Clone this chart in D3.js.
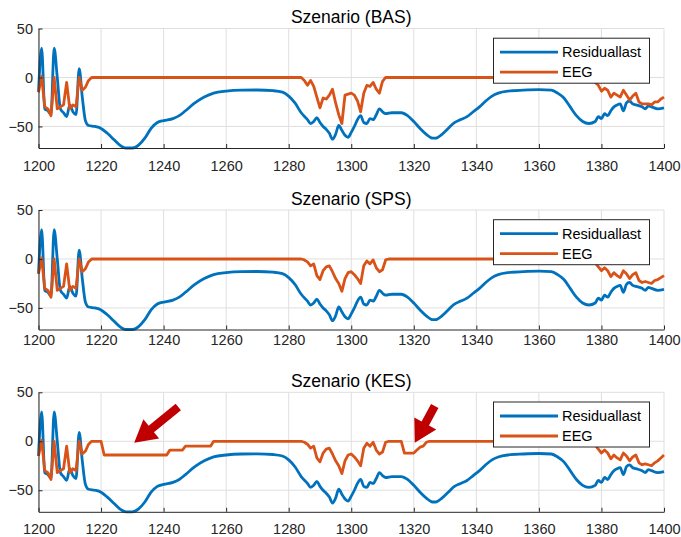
<!DOCTYPE html>
<html>
<head>
<meta charset="utf-8">
<script src="https://cdn.jsdelivr.net/npm/d3@7"></script>
<style>
	body { margin: 0; background: #ffffff; }
	svg { display: block; font-family: "Liberation Sans", Arial, Helvetica, sans-serif; }
</style>
</head>
<body>
<script>

// scenario names, one panel each
var scenarios = ["BAS", "SPS", "KES"];
var seriesNames = ["Residuallast", "EEG"];

var xTicks = [1200, 1220, 1240, 1260, 1280, 1300, 1320, 1340, 1360, 1380, 1400];
var yTicks = [-50, 0, 50];

// Residuallast (same curve in all three scenarios)
var residualT = [1200, 1201, 1202, 1203, 1204, 1205, 1206, 1207, 1208, 1209, 1210, 1211, 1212, 1213, 1214, 1215,
	1216, 1218, 1220, 1222, 1224, 1226, 1228, 1230, 1232, 1234, 1236, 1238, 1240, 1243, 1245, 1247, 1250,
	1253, 1256, 1260, 1265, 1270, 1275, 1278, 1280, 1282, 1284, 1286, 1287, 1288, 1289, 1290, 1291, 1292,
	1293, 1294, 1295, 1296, 1297, 1298, 1299, 1300, 1301, 1302, 1303, 1304, 1305, 1306, 1307, 1308, 1309,
	1310, 1311, 1313, 1316, 1318, 1320, 1322, 1324, 1326, 1327, 1329, 1331, 1333, 1335, 1337, 1339, 1341,
	1343, 1345, 1347, 1350, 1355, 1360, 1364, 1366, 1368, 1370, 1372, 1374, 1376, 1378, 1379, 1380, 1381,
	1382, 1383, 1384, 1385, 1386, 1387, 1388, 1389, 1390, 1391, 1393, 1394, 1395, 1396, 1398, 1400];
var residualV = [-15, 30, -32, -34, -38, 30, 0, -32, -36, -40, -28, -35, -38, 9, -20, -44,
	-49, -50, -52, -57, -63, -69, -72, -72, -69, -62, -52, -46, -44, -42, -39, -34, -26,
	-20, -16, -14, -13, -12.8, -13.5, -15, -19, -26, -36, -43, -47, -45, -41, -46, -50, -53,
	-57, -63, -58, -49, -54, -59, -61, -56, -50, -43, -39, -46, -47, -42, -43, -38, -32,
	-35, -37, -36, -36, -39, -45, -52, -58, -62, -62, -58, -52, -46, -43, -40, -35, -30,
	-24, -19, -16, -14, -13, -12.5, -13, -16, -21, -30, -39, -45, -47, -45, -40, -42, -37,
	-39, -34, -30, -28, -27, -34, -26, -24, -27, -28, -30, -32, -29, -30, -32, -31];

// EEG, scenario BAS
var eegBasT = [1200, 1201, 1202, 1203, 1204, 1205, 1206, 1207, 1208, 1209, 1210, 1211, 1212, 1213, 1214, 1215,
	1216, 1217, 1284, 1285, 1286, 1287, 1288, 1289, 1290, 1291, 1292, 1293, 1294, 1295, 1296, 1297, 1298,
	1299, 1300, 1301, 1302, 1303, 1304, 1305, 1306, 1307, 1308, 1309, 1310, 1311, 1377, 1378, 1379, 1380,
	1381, 1382, 1383, 1384, 1385, 1386, 1387, 1388, 1389, 1390, 1391, 1392, 1393, 1394, 1395, 1396, 1397,
	1398, 1399, 1400];
var eegBasV = [-15, 1, -30, -32, -39, 0, -32, -30, -28, -5, -32, -28, -30, 0, -13, -10,
	-3, 0, 0, -3, -8, -3, -9, -20, -31, -21, -22, -18, -12, -26, -38, -47, -18,
	-17, -16, -18, -24, -35, -16, -8, -9, -5, -12, -16, -4, 0, 0, -5, -8, -14,
	-11, -13, -20, -16, -18, -20, -13, -18, -23, -19, -16, -25, -27, -27, -27, -28, -25,
	-25, -22, -20];

// EEG, scenario SPS
var eegSpsT = [1200, 1201, 1202, 1203, 1204, 1205, 1206, 1207, 1208, 1209, 1210, 1211, 1212, 1213, 1214, 1215,
	1216, 1217, 1284, 1285, 1286, 1287, 1288, 1289, 1290, 1291, 1292, 1293, 1294, 1295, 1296, 1297, 1298,
	1299, 1300, 1301, 1302, 1303, 1304, 1305, 1306, 1307, 1308, 1309, 1310, 1311, 1312, 1377, 1378, 1379,
	1380, 1381, 1382, 1383, 1384, 1385, 1386, 1387, 1388, 1389, 1390, 1391, 1392, 1393, 1394, 1395, 1396,
	1397, 1398, 1399, 1400];
var eegSpsV = [-15, 1, -30, -32, -39, 0, -32, -30, -28, -5, -32, -28, -30, 0, -13, -10,
	-3, 0, 0, -1, -3, -7, -5, -17, -21, -12, -8, -7, -13, -20, -25, -33, -20,
	-14, -13, -16, -20, -25, -7, -2, -5, -1, -9, -13, -11, -1, 0, 0, -4, -8,
	-12, -9, -12, -18, -14, -17, -19, -12, -15, -20, -16, -14, -22, -24, -23, -24, -25,
	-22, -21, -19, -17];

// EEG, scenario KES
var eegKesT = [1200, 1201, 1202, 1203, 1204, 1205, 1206, 1207, 1208, 1209, 1210, 1211, 1212, 1213, 1214, 1215,
	1216, 1217, 1220, 1221, 1241, 1242, 1246, 1247, 1255, 1256, 1284, 1285, 1286, 1287, 1288, 1289, 1290,
	1291, 1292, 1293, 1294, 1295, 1296, 1297, 1298, 1299, 1300, 1301, 1302, 1303, 1304, 1305, 1306, 1307,
	1308, 1309, 1310, 1311, 1312, 1316, 1317, 1320, 1321, 1322, 1323, 1324, 1325, 1377, 1378, 1379, 1380,
	1381, 1382, 1383, 1384, 1385, 1386, 1387, 1388, 1389, 1390, 1391, 1392, 1393, 1394, 1395, 1396, 1397,
	1398, 1399, 1400];
var eegKesV = [-15, 1, -30, -32, -39, 0, -32, -30, -28, -5, -32, -28, -30, 0, -13, -10,
	-3, 0, 0, -14, -14, -9, -9, -5, -5, 0, 0, -1, -3, -7, -5, -17, -21,
	-12, -8, -7, -13, -20, -25, -33, -20, -14, -13, -16, -20, -25, -7, -2, -5, -1,
	-9, -13, -11, -1, 0, 0, -12, -12, -9, -6, -5, -1, 0, 0, -4, -8, -12,
	-9, -12, -18, -14, -17, -19, -12, -15, -20, -16, -14, -22, -24, -23, -24, -25, -22,
	-20, -17, -14];

// red arrows in the KES panel: [tailX, tailY, tipX, tipY] in data units
var arrowsKes = [[1244.7, 35, 1230.6, -1.5],
				 [1326.7, 36, 1320.3, -1.5]];

var eegT = [eegBasT, eegSpsT, eegKesT];
var eegV = [eegBasV, eegSpsV, eegKesV];

function toPoints(ts, vs){
	var pts = [];
	for (var i = 0; i < ts.length; i++){
		pts.push([ts[i], vs[i]]);
	}
	return pts;
}

function drawChart(){

	var width = 681, height = 537;
	var left = 38.5, right = 664;
	var panelTop = [28.5, 210, 392.3];
	var panelH = 119.5;
	// gap between axis and x tick labels differs per panel in the original
	var labelPad = [13, 5.5, 11.5];

	var colors = {blue: "#0072BD", orange: "#D95319"};
	var axisColor = "#262626";
	var gridColor = "#dfdfdf";

	var svg = d3.select("body")
		.append("svg")
		.attr("width", width)
		.attr("height", height);

	var xScale = d3.scaleLinear().domain([1200, 1400]).range([left, right]);

	var residual = toPoints(residualT, residualV);

	for (var p = 0; p < scenarios.length; p++){

		var pTop = panelTop[p];
		var yScale = d3.scaleLinear().domain([-72, 50]).range([pTop + panelH, pTop]);

		var g = svg.append("g").attr("class", "panel");

		// grid
		g.selectAll(".gx")
			.data(xTicks)
			.enter()
			.append("line")
			.attr("x1", function(d){ return xScale(d); })
			.attr("x2", function(d){ return xScale(d); })
			.attr("y1", pTop)
			.attr("y2", pTop + panelH)
			.attr("stroke", gridColor)
			.attr("stroke-width", 1);

		g.selectAll(".gy")
			.data(yTicks)
			.enter()
			.append("line")
			.attr("x1", left)
			.attr("x2", right)
			.attr("y1", function(d){ return yScale(d); })
			.attr("y2", function(d){ return yScale(d); })
			.attr("stroke", gridColor)
			.attr("stroke-width", 1);

		// lines
		var smoothLine = d3.line()
			.x(function(d){ return xScale(d[0]); })
			.y(function(d){ return yScale(d[1]); })
			.curve(d3.curveMonotoneX);

		var straightLine = d3.line()
			.x(function(d){ return xScale(d[0]); })
			.y(function(d){ return yScale(d[1]); });

		g.append("path")
			.datum(residual)
			.attr("d", smoothLine)
			.attr("fill", "none")
			.attr("stroke", colors.blue)
			.attr("stroke-width", 2.8)
			.attr("stroke-linejoin", "round");

		g.append("path")
			.datum(toPoints(eegT[p], eegV[p]))
			.attr("d", straightLine)
			.attr("fill", "none")
			.attr("stroke", colors.orange)
			.attr("stroke-width", 2.8)
			.attr("stroke-linejoin", "round");

		// X axis
		var xAxis = d3.axisBottom(xScale)
			.tickValues(xTicks)
			.tickFormat(d3.format("d"))
			.tickSizeInner(-4)
			.tickSizeOuter(0)
			.tickPadding(labelPad[p]);

		var gx = g.append("g")
			.attr("transform", "translate(0," + (pTop + panelH) + ")")
			.call(xAxis);
		gx.attr("font-family", null).attr("font-size", "14.5px");
		gx.select(".domain").attr("stroke", axisColor);
		gx.selectAll(".tick line").attr("stroke", axisColor);
		gx.selectAll(".tick text").attr("fill", axisColor);

		// Y axis
		var yAxis = d3.axisLeft(yScale)
			.tickValues(yTicks)
			.tickFormat(d3.format("d"))
			.tickSizeInner(-4)
			.tickSizeOuter(0)
			.tickPadding(5.5);

		var gy = g.append("g")
			.attr("transform", "translate(" + left + ",0)")
			.call(yAxis);
		gy.attr("font-family", null).attr("font-size", "14.5px");
		gy.select(".domain").attr("stroke", axisColor);
		gy.selectAll(".tick line").attr("stroke", axisColor);
		gy.selectAll(".tick text").attr("fill", axisColor);

		// title
		g.append("text")
			.attr("x", (left + right) / 2)
			.attr("y", pTop - 5.5)
			.attr("text-anchor", "middle")
			.attr("font-size", "17.5px")
			.attr("fill", "#000")
			.text("Szenario (" + scenarios[p] + ")");

		// legend
		var lx = 493, ly = pTop + 9.2;
		var legend = g.append("g").attr("transform", "translate(" + lx + "," + ly + ")");
		legend.append("rect")
			.attr("x", 0.5)
			.attr("y", 0.5)
			.attr("width", 156)
			.attr("height", 45)
			.attr("fill", "#ffffff")
			.attr("stroke", axisColor)
			.attr("stroke-width", 1);

		var legendColors = [colors.blue, colors.orange];
		legend.selectAll(".item")
			.data(seriesNames)
			.enter()
			.append("line")
			.attr("x1", 7)
			.attr("x2", 65)
			.attr("y1", function(d, i){ return 14.5 + i * 20; })
			.attr("y2", function(d, i){ return 14.5 + i * 20; })
			.attr("stroke", function(d, i){ return legendColors[i]; })
			.attr("stroke-width", 2.8);

		legend.selectAll(".label")
			.data(seriesNames)
			.enter()
			.append("text")
			.attr("x", 69)
			.attr("y", function(d, i){ return 14.5 + i * 20; })
			.attr("dy", "0.35em")
			.attr("font-size", "14.5px")
			.attr("fill", "#000")
			.text(function(d){ return d; });

		// arrows (only KES panel)
		if (scenarios[p] == "KES"){
			arrowsKes.forEach(function(a){
				var x0 = xScale(a[0]), y0 = yScale(a[1]);
				var x1 = xScale(a[2]), y1 = yScale(a[3]);
				var dx = x1 - x0, dy = y1 - y0;
				var len = Math.sqrt(dx * dx + dy * dy);
				var ux = dx / len, uy = dy / len;
				var nx = -uy, ny = ux;
				var headLen = 22, headW = 12.5, shaftW = 4.2;
				var bx = x1 - ux * headLen, by = y1 - uy * headLen;
				var pts = [
					[x0 + nx * shaftW, y0 + ny * shaftW],
					[bx + nx * shaftW, by + ny * shaftW],
					[bx + nx * headW, by + ny * headW],
					[x1, y1],
					[bx - nx * headW, by - ny * headW],
					[bx - nx * shaftW, by - ny * shaftW],
					[x0 - nx * shaftW, y0 - ny * shaftW]
				];
				g.append("polygon")
					.attr("points", pts.map(function(q){ return q[0] + "," + q[1]; }).join(" "))
					.attr("fill", "#c00000");
			});
		}
	}
}

drawChart();

</script>
</body>
</html>
